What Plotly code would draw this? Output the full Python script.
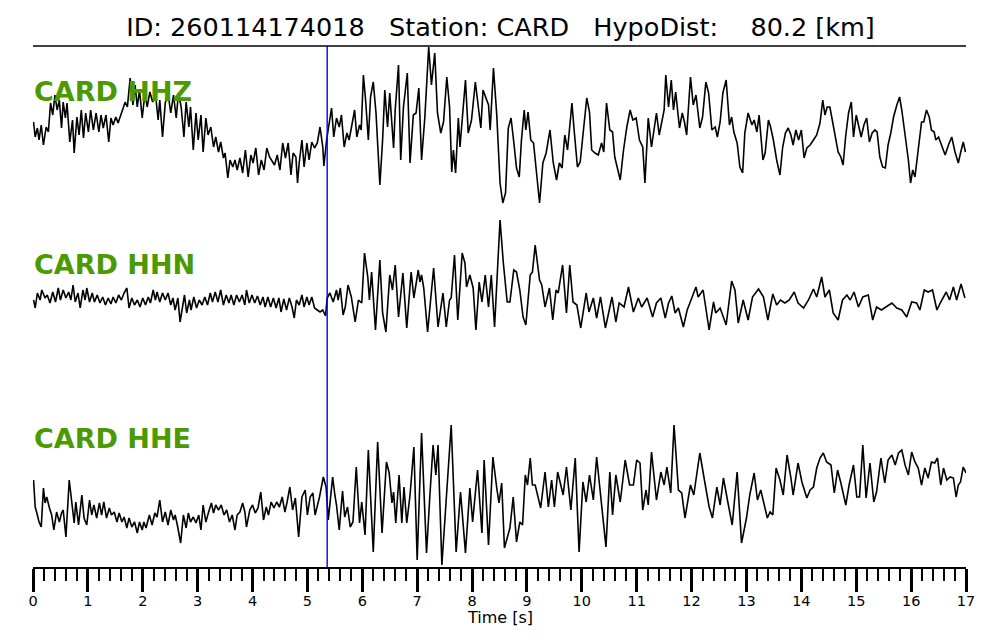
import plotly.graph_objects as go

# ---------------- data ----------------
event_id = "260114174018"
station = "CARD"
hypo_dist_km = 80.2
p_pick_s = 5.36
channels = ["CARD HHZ", "CARD HHN", "CARD HHE"]

# HHZ trace: time [s], amplitude [arb. units]
hhz_t = [0.01,0.04,0.08,0.11,0.15,0.19,0.24,0.28,0.32,0.36,0.40,0.44,0.48,0.52,0.55,0.59,0.62,0.67,0.72,0.75,
         0.80,0.84,0.88,0.92,0.96,1.01,1.05,1.10,1.15,1.20,1.24,1.28,1.33,1.38,1.42,1.46,1.51,1.55,1.60,1.63,
         1.68,1.72,1.77,1.82,1.86,1.90,1.94,1.99,2.04,2.08,2.13,2.18,2.23,2.28,2.31,2.36,2.41,2.46,2.51,2.56,
         2.61,2.65,2.70,2.75,2.79,2.84,2.87,2.92,2.97,3.01,3.06,3.10,3.15,3.19,3.24,3.29,3.33,3.38,3.42,3.47,
         3.50,3.55,3.59,3.64,3.68,3.72,3.77,3.82,3.87,3.92,3.97,4.01,4.06,4.11,4.16,4.21,4.26,4.31,4.35,4.40,
         4.45,4.50,4.55,4.60,4.65,4.70,4.74,4.79,4.82,4.85,4.90,4.94,4.99,5.03,5.08,5.13,5.18,5.23,5.28,5.30,
         5.35,5.40,5.44,5.48,5.53,5.58,5.62,5.67,5.72,5.76,5.81,5.86,5.90,5.95,5.98,6.02,6.06,6.11,6.15,6.20,
         6.25,6.32,6.37,6.41,6.46,6.50,6.57,6.60,6.66,6.70,6.75,6.82,6.87,6.93,6.98,7.03,7.08,7.14,7.21,7.26,
         7.32,7.37,7.43,7.48,7.54,7.59,7.63,7.66,7.70,7.75,7.78,7.83,7.88,7.93,7.99,8.06,8.11,8.16,8.20,8.25,
         8.30,8.33,8.39,8.45,8.51,8.56,8.61,8.66,8.71,8.76,8.81,8.86,8.90,8.95,8.98,9.02,9.07,9.12,9.17,9.23,
         9.29,9.35,9.42,9.48,9.54,9.59,9.64,9.69,9.74,9.78,9.82,9.86,9.92,9.97,10.03,10.09,10.14,10.18,10.24,10.30,
         10.36,10.40,10.45,10.51,10.56,10.60,10.70,10.76,10.82,10.88,10.93,10.99,11.05,11.11,11.15,11.21,11.27,11.32,11.36,11.41,
         11.46,11.50,11.53,11.58,11.63,11.67,11.71,11.78,11.83,11.87,11.91,11.98,12.03,12.08,12.15,12.20,12.26,12.31,12.37,12.43,
         12.47,12.52,12.57,12.63,12.69,12.73,12.77,12.83,12.88,12.93,12.97,13.03,13.10,13.14,13.19,13.23,13.30,13.34,13.40,13.44,
         13.49,13.55,13.61,13.66,13.71,13.76,13.81,13.85,13.90,13.95,14.00,14.05,14.10,14.16,14.22,14.28,14.34,14.39,14.43,14.47,
         14.52,14.57,14.61,14.67,14.72,14.76,14.81,14.86,14.91,14.95,15.00,15.04,15.09,15.14,15.19,15.24,15.29,15.34,15.38,15.43,
         15.48,15.53,15.58,15.63,15.68,15.74,15.79,15.83,15.89,15.95,15.99,16.03,16.07,16.13,16.19,16.23,16.28,16.33,16.37,16.42,
         16.45,16.50,16.56,16.62,16.68,16.74,16.80,16.86,16.90,16.95,16.99]
hhz_a = [8,-7,2,-10,5,-15,3,-2,27,15,35,20,30,2,28,12,27,-12,10,-23,
         13,-5,20,-8,17,-2,20,0,17,-2,15,2,15,-12,12,5,13,7,15,20,
         28,23,52,25,45,23,40,12,37,23,38,28,37,10,30,-7,27,37,17,35,
         12,37,23,-7,28,3,23,-20,17,-10,15,-22,12,-5,3,-17,-7,-22,-12,-28,
         -23,-48,-30,-37,-30,-40,-28,-43,-20,-47,-25,-33,-18,-45,-30,-40,-18,-27,-30,-35,
         -25,-40,-13,-28,-13,-45,-23,-27,-53,-33,-10,-37,-13,-30,-12,-18,-13,3,-17,-36,
         -10,10,22,-7,12,3,15,-17,-3,-10,7,20,-7,5,0,55,30,-10,33,48,
         17,-55,-10,40,3,37,-18,20,65,-30,23,57,-33,15,17,42,-30,13,83,45,
         77,17,-3,8,53,23,-42,-20,-43,12,-17,20,50,-3,10,48,23,2,40,32,
         25,0,62,15,-53,-73,-63,2,12,-12,-38,-47,-10,20,0,18,-10,-13,-43,-73,
         -33,-23,0,-33,-50,-33,-38,-5,-20,7,27,0,-37,-32,3,32,18,-20,-23,-25,
         -13,-22,27,0,-2,-27,-50,-20,3,20,10,12,-10,-17,-53,12,-17,2,17,-5,
         8,20,55,23,50,20,38,2,17,8,-5,53,25,35,2,13,48,37,0,3,
         -7,8,37,50,5,13,-2,-13,-37,-43,-3,17,5,10,-2,15,-30,-23,10,3,
         -10,-30,-45,-17,-3,2,-5,-15,0,-10,0,-28,-18,-15,-10,-5,7,30,15,23,
         23,7,-7,-22,-27,-35,-5,17,28,-7,15,5,-7,5,12,-12,-3,0,-2,-27,
         -37,-38,-15,-3,13,25,33,20,-5,-30,-53,-40,-47,-18,8,8,20,13,0,-2,
         -10,-7,-17,-25,-15,-7,-22,-33,-23,-12,-22]

# HHN trace
hhn_t = [0.01,0.04,0.08,0.13,0.16,0.22,0.26,0.31,0.36,0.41,0.46,0.50,0.55,0.60,0.65,0.69,0.73,0.77,0.82,0.86,
         0.91,0.95,0.98,1.03,1.08,1.12,1.17,1.22,1.27,1.32,1.37,1.42,1.46,1.51,1.56,1.61,1.66,1.71,1.75,1.80,
         1.85,1.90,1.95,2.00,2.05,2.10,2.14,2.19,2.23,2.26,2.31,2.36,2.41,2.46,2.51,2.55,2.59,2.64,2.68,2.73,
         2.76,2.80,2.85,2.88,2.93,2.98,3.03,3.08,3.13,3.18,3.23,3.27,3.32,3.37,3.42,3.47,3.52,3.57,3.61,3.66,
         3.71,3.76,3.81,3.86,3.89,3.94,3.99,4.04,4.09,4.14,4.19,4.23,4.28,4.33,4.38,4.43,4.48,4.52,4.57,4.62,
         4.67,4.72,4.76,4.80,4.85,4.90,4.94,4.99,5.03,5.08,5.13,5.18,5.23,5.28,5.33,5.36,5.41,5.47,5.53,5.56,
         5.60,5.65,5.69,5.74,5.80,5.87,5.93,5.99,6.04,6.10,6.13,6.17,6.24,6.32,6.37,6.43,6.50,6.55,6.60,6.66,
         6.74,6.81,6.89,6.94,7.02,7.05,7.08,7.12,7.19,7.25,7.30,7.38,7.47,7.53,7.59,7.62,7.68,7.74,7.82,7.87,
         7.90,7.96,8.02,8.07,8.13,8.18,8.24,8.30,8.35,8.41,8.51,8.57,8.64,8.69,8.76,8.81,8.87,8.93,8.98,9.06,
         9.10,9.15,9.23,9.27,9.33,9.41,9.47,9.53,9.57,9.65,9.72,9.78,9.84,9.91,9.98,10.08,10.13,10.21,10.27,10.34,
         10.43,10.55,10.62,10.68,10.77,10.85,10.94,11.03,11.09,11.19,11.29,11.36,11.44,11.52,11.58,11.64,11.70,11.76,11.85,11.92,
         12.00,12.08,12.12,12.21,12.32,12.40,12.44,12.52,12.63,12.73,12.79,12.85,12.94,13.03,13.11,13.22,13.31,13.39,13.48,13.55,
         13.62,13.70,13.78,13.87,13.94,14.04,14.13,14.22,14.28,14.37,14.43,14.51,14.58,14.67,14.75,14.83,14.89,14.96,15.04,15.12,
         15.22,15.30,15.37,15.46,15.54,15.65,15.74,15.83,15.92,16.01,16.10,16.16,16.24,16.31,16.39,16.47,16.54,16.64,16.70,16.77,
         16.83,16.91,16.98]
hhn_a = [-2,-10,5,-2,8,0,3,-5,6,-4,10,-2,8,0,6,-2,13,-4,5,-10,
         8,-2,10,-4,5,-4,3,-5,1,-7,0,-6,1,-5,3,-2,5,10,-10,0,
         -7,-2,-9,0,-7,1,-5,8,-2,6,-4,5,-2,5,-7,0,-12,0,-24,-7,
         3,-15,-2,-12,1,-10,-2,-7,1,-7,5,-4,6,-4,8,-7,3,-5,3,-7,
         3,-4,3,-7,8,-5,3,-5,2,-7,1,-9,1,-9,0,-10,0,-14,-1,-12,
         0,-9,-20,-2,-7,3,-9,1,-7,1,-10,-12,-14,-12,-18,0,5,-4,8,-2,
         10,-17,-9,13,1,-24,-2,-5,45,21,-2,26,-32,38,-15,-34,23,8,33,-19,
         25,-30,26,0,28,16,23,10,-34,1,30,-29,5,-29,-2,0,43,-22,45,35,
         11,23,10,-32,16,-4,23,-9,23,-29,78,35,-4,-4,28,26,8,-19,-27,23,
         26,53,18,13,-9,10,-22,8,5,33,-15,33,-4,-7,-30,5,-14,0,-20,1,
         -30,1,-24,-5,-9,11,-14,0,-9,0,-19,-5,0,-20,-5,2,-15,-10,-29,-12,
         0,11,1,8,-32,-4,-15,-10,-27,17,8,-25,-2,-22,1,9,1,-22,4,-7,
         -2,-5,-2,6,-5,-10,-2,9,1,21,1,8,-15,-22,-2,3,-2,6,-9,1,
         3,-22,-9,-12,-9,-5,-10,-12,-19,-4,-5,-12,8,6,8,-12,-4,6,-2,11,
         -2,14,0]

# HHE trace
hhe_t = [0.01,0.04,0.07,0.11,0.15,0.19,0.22,0.25,0.30,0.34,0.38,0.43,0.48,0.52,0.55,0.60,0.66,0.71,0.75,0.78,
         0.83,0.89,0.93,0.98,1.03,1.07,1.11,1.16,1.21,1.25,1.29,1.34,1.39,1.43,1.48,1.53,1.57,1.62,1.66,1.71,
         1.75,1.80,1.85,1.90,1.94,1.99,2.02,2.06,2.12,2.17,2.22,2.26,2.31,2.36,2.41,2.46,2.51,2.56,2.59,2.63,
         2.69,2.74,2.79,2.83,2.87,2.92,2.97,3.02,3.06,3.10,3.15,3.20,3.25,3.29,3.33,3.38,3.43,3.48,3.53,3.58,
         3.63,3.68,3.72,3.77,3.82,3.86,3.89,3.95,4.00,4.05,4.10,4.15,4.20,4.25,4.29,4.34,4.39,4.44,4.49,4.54,
         4.59,4.63,4.68,4.73,4.78,4.84,4.90,4.96,5.00,5.05,5.10,5.14,5.22,5.29,5.34,5.38,5.46,5.50,5.53,5.58,
         5.64,5.68,5.73,5.78,5.83,5.89,5.95,5.99,6.05,6.11,6.16,6.20,6.28,6.36,6.44,6.49,6.54,6.57,6.61,6.67,
         6.72,6.76,6.81,6.87,6.94,7.00,7.08,7.17,7.23,7.29,7.34,7.38,7.45,7.54,7.62,7.71,7.79,7.88,7.96,8.01,
         8.10,8.18,8.22,8.30,8.38,8.45,8.49,8.54,8.59,8.64,8.69,8.75,8.81,8.87,8.92,8.97,9.01,9.06,9.10,9.15,
         9.21,9.25,9.33,9.39,9.45,9.50,9.56,9.62,9.66,9.72,9.80,9.88,9.95,10.02,10.08,10.14,10.21,10.27,10.36,10.44,
         10.51,10.56,10.62,10.70,10.79,10.87,10.94,11.00,11.06,11.11,11.17,11.21,11.27,11.36,11.44,11.50,11.55,11.62,11.68,11.76,
         11.82,11.88,11.94,11.98,12.04,12.15,12.24,12.32,12.38,12.46,12.52,12.58,12.66,12.74,12.83,12.91,13.00,13.06,13.14,13.20,
         13.26,13.32,13.38,13.43,13.48,13.54,13.61,13.67,13.74,13.81,13.85,13.94,14.01,14.10,14.16,14.22,14.28,14.34,14.40,14.46,
         14.54,14.60,14.66,14.72,14.81,14.87,14.95,15.01,15.06,15.12,15.18,15.25,15.32,15.37,15.45,15.52,15.58,15.65,15.71,15.77,
         15.83,15.89,15.95,16.01,16.07,16.13,16.19,16.25,16.31,16.37,16.43,16.48,16.54,16.59,16.65,16.71,16.77,16.82,16.86,16.90,
         16.95,17.00]
hhe_a = [10,-17,-23,-32,-37,2,-13,-7,-18,-25,-40,-22,-32,-23,-20,-47,10,-18,-33,-12,
         -35,-5,-28,-35,-10,-25,-15,-28,-13,-25,-12,-28,-18,-25,-22,-32,-23,-32,-27,-38,
         -28,-37,-32,-43,-32,-40,-32,-38,-25,-35,-23,-27,-10,-32,-22,-35,-20,-30,-25,-35,
         -53,-25,-38,-23,-32,-27,-33,-25,-40,-15,-32,-22,-13,-23,-15,-20,-15,-25,-20,-32,
         -25,-40,-25,-22,-13,-22,-37,-20,-15,-23,-18,-2,-30,-17,-25,-12,-18,-12,-17,-7,
         -22,-12,3,-20,-8,-47,-7,0,-25,-7,-3,-25,-7,13,3,-30,13,-5,-15,-40,
         -1,-27,-17,-37,-32,23,-33,-12,-45,40,-22,-62,48,-43,28,17,-13,-2,-33,15,
         -33,3,-33,-5,43,-70,57,-63,-7,45,15,45,-75,2,65,-62,-2,-63,2,-32,
         20,-43,30,-55,33,2,-13,7,-58,-48,-38,-7,-52,-32,-35,15,5,32,5,5,
         -8,-18,18,-17,10,-17,18,2,-5,23,-20,32,-62,8,-12,15,-10,33,-13,-57,
         18,-25,15,-12,30,5,5,30,27,-20,0,-15,38,-10,18,5,23,-3,65,0,
         -3,-28,-8,5,-5,37,8,-17,-28,3,-15,12,-12,-35,18,-53,-28,-5,17,-10,
         0,-15,-28,-22,-25,22,10,-5,35,12,-5,27,8,-8,0,3,22,32,37,28,
         25,-3,20,7,-15,5,25,-7,-7,45,-8,27,-12,-2,32,7,30,35,25,37,
         40,25,15,38,28,22,5,22,12,28,27,32,5,22,10,13,12,-7,5,8,
         23,17]

traces = [(hhz_t, hhz_a), (hhn_t, hhn_a), (hhe_t, hhe_a)]

# ---------------- figure ----------------
fig = go.Figure()
yaxes = ["y", "y2", "y3"]
for (tt, aa), ya in zip(traces, yaxes):
    fig.add_trace(go.Scatter(x=tt, y=aa, mode="lines", xaxis="x", yaxis=ya,
                             line=dict(color="black", width=1.6), showlegend=False,
                             hoverinfo="skip"))

font_family = "DejaVu Sans, Verdana, sans-serif"
nb = "\u00a0"
title = (f"ID: {event_id}{nb*3}Station: {station}{nb*3}HypoDist:{nb*4}{hypo_dist_km:.1f} [km]")

fig.update_layout(
    width=1000, height=640,
    margin=dict(l=25, r=42, t=38, b=81),
    paper_bgcolor="white", plot_bgcolor="white",
    font=dict(family=font_family, color="black"),
    title=dict(text=title, x=0.4925, xanchor="center", y=1 - 19 / 640, yanchor="middle",
               yref="container", font=dict(size=25.5, family=font_family, color="black")),
    xaxis=dict(range=[0, 17], domain=[0, 1], anchor="y3", showgrid=False, zeroline=False,
               showline=True, linecolor="black", linewidth=2,
               ticks="outside", tick0=0, dtick=1, ticklen=23, tickwidth=2.6, tickcolor="black",
               tickfont=dict(size=14.5, family=font_family, color="black"),
               ticklabelstandoff=-3,
               minor=dict(ticks="outside", dtick=0.2, ticklen=12, tickwidth=2, tickcolor="black",
                          showgrid=False)),
    yaxis=dict(domain=[2 / 3, 1], range=[-89.67, 84], visible=False, anchor="x"),
    yaxis2=dict(domain=[1 / 3, 2 / 3], range=[-95.33, 78.33], visible=False, anchor="x"),
    yaxis3=dict(domain=[0, 1 / 3], range=[-77, 96.67], visible=False, anchor="x"),
)

# x-axis title
fig.add_annotation(text="Time [s]", xref="paper", yref="paper", x=0.5, y=0, yshift=-50,
                   xanchor="center", yanchor="middle", showarrow=False,
                   font=dict(size=16, family=font_family, color="black"))

# top frame line
fig.add_shape(type="line", xref="paper", yref="paper", x0=0, x1=1, y0=1, y1=1,
              line=dict(color="black", width=1.6))
# P pick marker
fig.add_shape(type="line", xref="x", yref="paper", x0=p_pick_s, x1=p_pick_s, y0=0, y1=1,
              line=dict(color="#0000ff", width=1.4))

label_y = [0.9136, 0.5797, 0.2476]
for name, ly in zip(channels, label_y):
    fig.add_annotation(text=f"<b>{name}</b>", xref="paper", yref="paper", x=0, y=ly,
                       xanchor="left", yanchor="middle", showarrow=False, xshift=-1,
                       font=dict(size=27, family=font_family, color="#4c9a00"))

fig.write_html("out.html")
